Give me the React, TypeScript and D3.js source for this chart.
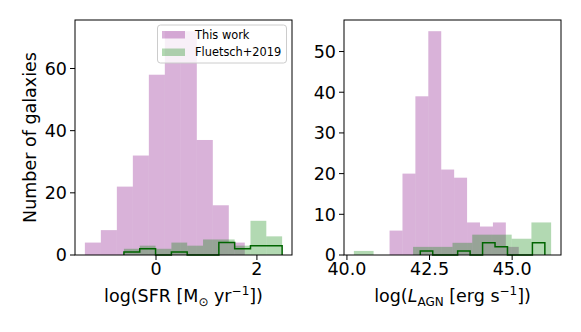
import React from "react";
import * as d3 from "d3";

// left panel: log SFR histograms (10 equal bins each, range = outer bin edges)
const sfrThisWorkRange = [-1.41, 1.76];
const sfrThisWorkCounts = [4, 8, 22, 32, 58, 72, 72, 37, 16, 4];
const sfrFluetschRange = [-0.636, 2.5];
const sfrFluetschCounts = [2, 3, 2, 4, 3, 5, 5, 3, 11, 6];
const sfrSubsetRange = [-0.636, 2.5];
const sfrSubsetCounts = [1, 2, 0, 1, 0, 0, 4, 2, 3, 3];
const sfrTicks = [0, 2];
const sfrCountTicks = [0, 20, 40, 60];

// right panel: log L_AGN histograms
const agnThisWorkRange = [41.29, 45.2];
const agnThisWorkCounts = [6, 20, 39, 55, 21, 19, 8, 7, 8, 2];
const agnFluetschRange = [40.21, 46.18];
const agnFluetschCounts = [1, 0, 0, 2, 2, 3, 5, 5, 4, 8];
const agnSubsetRange = [42.22, 45.99];
const agnSubsetCounts = [1, 0, 0, 1, 0, 3, 2, 0, 0, 3];
const agnTicks = [40, 42.5, 45];
const agnCountTicks = [0, 10, 20, 30, 40, 50];

const legendLabels = ["This work", "Fluetsch+2019"];

const FONT = "DejaVu Sans";
const W = 581;
const H = 332;
const top = 20;
const bottom = 255;

const edgesOf = (range, n) =>
  d3.range(n + 1).map((i) => range[0] + (i * (range[1] - range[0])) / n);

const Bars = ({ range, counts, x, y, fill }) => {
  const e = edgesOf(range, counts.length);
  return (
    <g fill={fill} fillOpacity={0.3}>
      {counts.map((c, i) =>
        c > 0 ? (
          <rect
            key={i}
            x={x(e[i])}
            width={x(e[i + 1]) - x(e[i])}
            y={y(c)}
            height={y(0) - y(c)}
          />
        ) : null
      )}
    </g>
  );
};

const Step = ({ range, counts, x, y }) => {
  const e = edgesOf(range, counts.length);
  const pts: [number, number][] = [[e[0], 0]];
  counts.forEach((c, i) => {
    pts.push([e[i], c]);
    pts.push([e[i + 1], c]);
  });
  pts.push([e[e.length - 1], 0]);
  const line = d3
    .line()
    .x((d) => x(d[0]))
    .y((d) => y(d[1]));
  return <path d={line(pts)} fill="none" stroke="darkgreen" strokeWidth={1.5} />;
};

const Panel = ({ left, right, data, xTicks, yTicks, fmt, ylabel, xlabel, legend }) => {
  const lo = d3.min(data, (d) => d.range[0]);
  const hi = d3.max(data, (d) => d.range[1]);
  const pad = (hi - lo) * 0.05;
  const x = d3.scaleLinear().domain([lo - pad, hi + pad]).range([left, right]);
  const ymax = d3.max(data, (d) => d3.max(d.counts)) * 1.05;
  const y = d3.scaleLinear().domain([0, ymax]).range([bottom, top]);
  const cx = (left + right) / 2;

  return (
    <g fontFamily={FONT}>
      {data.map((d, i) =>
        d.kind === "step" ? (
          <Step key={i} range={d.range} counts={d.counts} x={x} y={y} />
        ) : (
          <Bars key={i} range={d.range} counts={d.counts} x={x} y={y} fill={d.color} />
        )
      )}
      <rect x={left} y={top} width={right - left} height={bottom - top} fill="none" stroke="#000" strokeWidth={1} />
      {xTicks.map((t) => (
        <g key={t}>
          <line x1={x(t)} x2={x(t)} y1={bottom} y2={bottom + 5} stroke="#000" />
          <text x={x(t)} y={275} textAnchor="middle" fontSize={17.5}>
            {fmt(t)}
          </text>
        </g>
      ))}
      {yTicks.map((t) => (
        <g key={t}>
          <line x1={left - 5} x2={left} y1={y(t)} y2={y(t)} stroke="#000" />
          <text x={left - 8} y={y(t)} dy="0.36em" textAnchor="end" fontSize={17.5}>
            {t}
          </text>
        </g>
      ))}
      <text x={cx} y={302} textAnchor="middle" fontSize={17.5}>
        {xlabel}
      </text>
      {ylabel ? (
        <text
          transform={`translate(36,${(top + bottom) / 2}) rotate(-90)`}
          textAnchor="middle"
          fontSize={17.5}
        >
          {ylabel}
        </text>
      ) : null}
      {legend ? (
        <g>
          <rect x={157.5} y={25} width={129} height={38} rx={3} fill="#fff" fillOpacity={0.8} stroke="#ccc" strokeWidth={1} />
          {legendLabels.map((l, i) => (
            <g key={l} transform={`translate(0,${i * 17.5})`}>
              <rect x={162} y={31} width={23} height={7.5} fill={i === 0 ? "purple" : "green"} fillOpacity={0.3} />
              <text x={195} y={38.8} fontSize={11.4}>
                {l}
              </text>
            </g>
          ))}
        </g>
      ) : null}
    </g>
  );
};

export default function App() {
  const sfrData = [
    { range: sfrThisWorkRange, counts: sfrThisWorkCounts, color: "purple", kind: "bar" },
    { range: sfrFluetschRange, counts: sfrFluetschCounts, color: "green", kind: "bar" },
    { range: sfrSubsetRange, counts: sfrSubsetCounts, kind: "step" },
  ];
  const agnData = [
    { range: agnThisWorkRange, counts: agnThisWorkCounts, color: "purple", kind: "bar" },
    { range: agnFluetschRange, counts: agnFluetschCounts, color: "green", kind: "bar" },
    { range: agnSubsetRange, counts: agnSubsetCounts, kind: "step" },
  ];

  return (
    <svg
      width={W}
      height={H}
      style={{ position: "absolute", left: 0, top: 0, background: "#fff" }}
    >
      <Panel
        left={75}
        right={292}
        data={sfrData}
        xTicks={sfrTicks}
        yTicks={sfrCountTicks}
        fmt={(t) => String(t)}
        ylabel="Number of galaxies"
        legend
        xlabel={
          <>
            log(SFR [M
            <tspan dy={4} fontSize={12}>⊙</tspan>
            <tspan dy={-4}> yr</tspan>
            <tspan dy={-7} fontSize={12}>−1</tspan>
            <tspan dy={7}>])</tspan>
          </>
        }
      />
      <Panel
        left={344}
        right={561}
        data={agnData}
        xTicks={agnTicks}
        yTicks={agnCountTicks}
        fmt={(t) => t.toFixed(1)}
        xlabel={
          <>
            log(
            <tspan fontStyle="italic">L</tspan>
            <tspan dy={4} fontSize={12}>AGN</tspan>
            <tspan dy={-4}> [erg s</tspan>
            <tspan dy={-7} fontSize={12}>−1</tspan>
            <tspan dy={7}>])</tspan>
          </>
        }
      />
    </svg>
  );
}
